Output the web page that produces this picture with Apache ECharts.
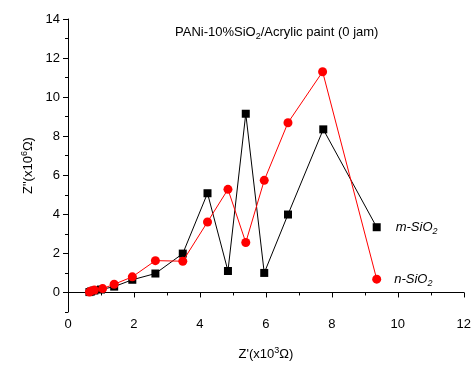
<!DOCTYPE html>
<html><head><meta charset="utf-8">
<script src="https://cdn.jsdelivr.net/npm/echarts@6/dist/echarts.min.js"></script>
<style>html,body{margin:0;padding:0;background:#fff}#c{width:474px;height:366px}</style>
</head><body><div id="c"></div>
<script>
const mX = [0.65, 0.7, 0.8, 1.0, 1.4, 1.95, 2.65, 3.48, 4.23, 4.85, 5.39, 5.95, 6.67, 7.74, 9.36];
const mY = [0.02, 0.05, 0.1, 0.15, 0.3, 0.65, 0.97, 1.99, 5.08, 1.1, 9.15, 1.0, 3.99, 8.35, 3.34];
const nX = [0.65, 0.7, 0.8, 1.05, 1.4, 1.95, 2.65, 3.48, 4.23, 4.85, 5.39, 5.95, 6.67, 7.72, 9.36];
const nY = [0.02, 0.08, 0.12, 0.2, 0.42, 0.8, 1.63, 1.6, 3.61, 5.28, 2.56, 5.74, 8.69, 11.3, 0.68];
const xTicks = [0, 2, 4, 6, 8, 10, 12];
const yTicks = [0, 2, 4, 6, 8, 10, 12, 14];
const seriesNames = ['m-SiO', 'n-SiO'];

const font = 'Liberation Sans, Arial, sans-serif';
function pts(xs, ys){ return xs.map((x,i)=>[x, ys[i]]); }
function lastLabel(name, dist){
  return {show:true, position:'right', distance:dist,
    formatter:'{i|'+name+'}{s|2}',
    rich:{i:{fontFamily:font,fontStyle:'italic',fontSize:13,color:'#000'},
          s:{fontFamily:font,fontStyle:'italic',fontSize:9,color:'#000',padding:[8,0,0,0]}}};
}
function mk(xs, ys, name, dist){
  return pts(xs, ys).map((p,i)=> i===xs.length-1 ? {value:p, label:lastLabel(name, dist)} : p);
}
const chart = echarts.init(document.getElementById('c'));
chart.setOption({
  animation:false,
  backgroundColor:'#fff',
  title:{text:'{a|PANi-10%SiO}{s|2}{a|/Acrylic paint (0 jam)}', left:170, top:19,
    textStyle:{rich:{a:{fontFamily:font,fontSize:13,fontWeight:'normal',color:'#000'},
      s:{fontFamily:font,fontSize:9,fontWeight:'normal',color:'#000',padding:[8,0,0,0]}}}},
  grid:{left:68, right:8, top:19, bottom:52},
  xAxis:{type:'value', min:0, max:12, interval:2,
    axisLine:{lineStyle:{color:'#000',width:1}},
    axisTick:{show:true, inside:false, length:5, lineStyle:{color:'#000'}},
    minorTick:{show:true, splitNumber:2, length:3, lineStyle:{color:'#000'}},
    splitLine:{show:false},
    axisLabel:{color:'#000', fontFamily:font, fontSize:13, margin:6,
      formatter:v=> xTicks.includes(v)? String(v):''},
    name:'{a|Z\'(x10}{s|3}{a|Ω)}', nameLocation:'middle', nameGap:34,
    nameTextStyle:{rich:{a:{fontFamily:font,fontSize:13,color:'#000'},
      s:{fontFamily:font,fontSize:9,color:'#000',padding:[0,0,8,0]}}}},
  yAxis:[{type:'value', min:-1, max:14, interval:1,
    axisLine:{lineStyle:{color:'#000',width:1}},
    axisTick:{show:true, inside:false, length:5, lineStyle:{color:'#000'}, customValues:yTicks},
    splitLine:{show:false},
    axisLabel:{color:'#000', fontFamily:font, fontSize:13, margin:8, customValues:yTicks},
    name:'{a|Z"(x10}{s|6}{a|Ω)}', nameLocation:'middle', nameGap:30, nameRotate:90,
    nameTextStyle:{rich:{a:{fontFamily:font,fontSize:13,color:'#000'},
      s:{fontFamily:font,fontSize:9,color:'#000',padding:[0,0,8,0]}}}},
   {type:'value', min:-1, max:14, interval:1, position:'left', offset:0,
    axisLine:{show:false}, axisLabel:{show:false}, splitLine:{show:false},
    axisTick:{show:true, inside:false, length:3, lineStyle:{color:'#000'}}}],
  series:[
    {name:seriesNames[0], type:'line', data:mk(mX,mY,seriesNames[0],15), symbol:'rect', symbolSize:8,
      itemStyle:{color:'#000'}, lineStyle:{color:'#000',width:1}, z:2},
    {name:seriesNames[1], type:'line', data:mk(nX,nY,seriesNames[1],13), symbol:'circle', symbolSize:9,
      itemStyle:{color:'#ff0000'}, lineStyle:{color:'#ff0000',width:1}, z:3}
  ]
});
</script></body></html>
